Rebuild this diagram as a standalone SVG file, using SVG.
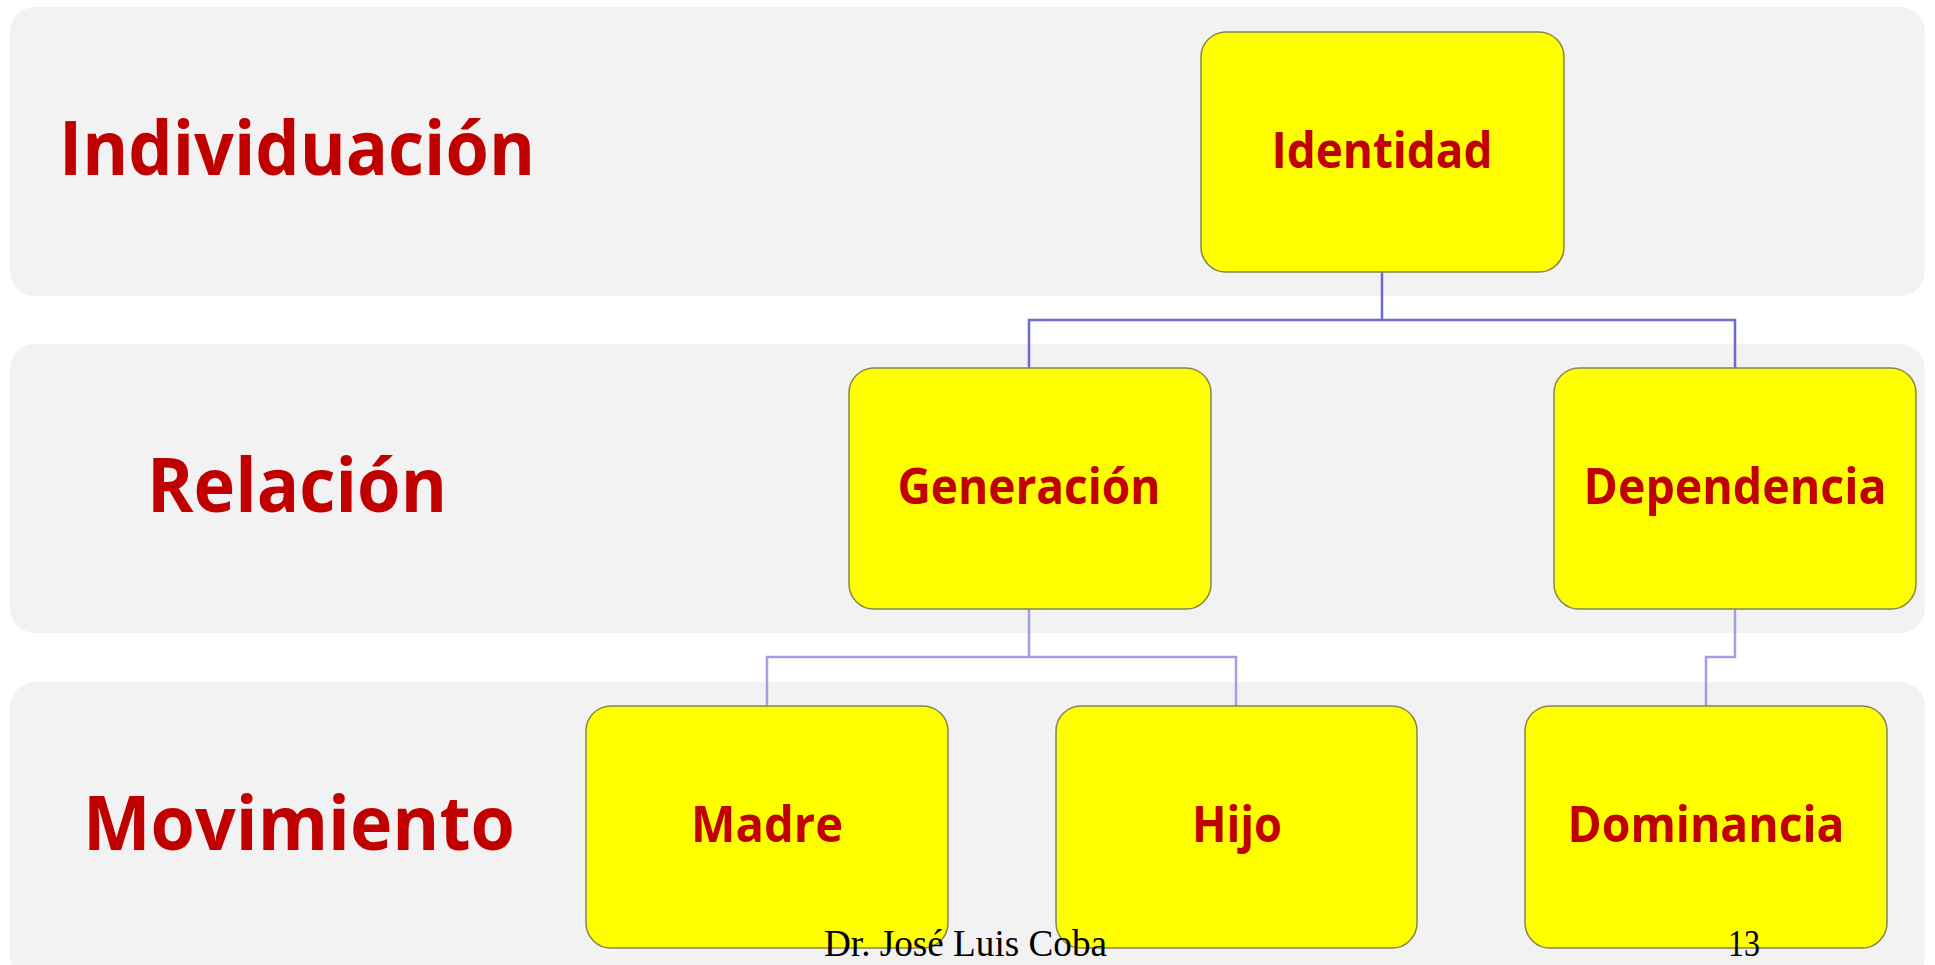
<svg xmlns="http://www.w3.org/2000/svg" width="1935" height="965" viewBox="0 0 1935 965">
<style>
.band{fill:#f2f2f2}
.node rect{fill:#ffff00;stroke:#85854f;stroke-width:1.5}
.lbl{font-family:"Open Sans","Liberation Sans",sans-serif;font-weight:bold;fill:#c00000;text-anchor:middle}
.big{font-size:75px}
.nl{font-size:50px}
.c1{fill:none;stroke:#6a6ad2;stroke-width:2.5}
.c2{fill:none;stroke:#a0a0e4;stroke-width:2.5}
.foot{font-family:"Liberation Serif","Times New Roman",serif;font-size:38px;fill:#000}
</style>
<rect width="1935" height="965" fill="#ffffff"/>
<g id="bands">
<rect class="band" x="10" y="7" width="1915" height="289" rx="25"/>
<rect class="band" x="10" y="344" width="1915" height="289" rx="25"/>
<rect class="band" x="10" y="682" width="1915" height="300" rx="25"/>
</g>
<g id="row-labels">
<text class="lbl big" x="297" y="175" textLength="476" lengthAdjust="spacingAndGlyphs">Individuación</text>
<text class="lbl big" x="297" y="512" textLength="300" lengthAdjust="spacingAndGlyphs">Relación</text>
<text class="lbl big" x="299" y="850" textLength="432" lengthAdjust="spacingAndGlyphs">Movimiento</text>
</g>
<g id="connectors">
<path class="c1" d="M1382,272 V320 M1029,368 V320 H1735 V368"/>
<path class="c2" d="M1029,609 V657 M767,706 V657 H1236 V706"/>
<path class="c2" d="M1735,609 V657 H1706 V706"/>
</g>
<g id="identidad" class="node">
<rect x="1201" y="32" width="363" height="240" rx="25"/>
<text class="lbl nl" x="1382" y="168" textLength="221" lengthAdjust="spacingAndGlyphs">Identidad</text>
</g>
<g id="generacion" class="node">
<rect x="849" y="368" width="362" height="241" rx="25"/>
<text class="lbl nl" x="1029" y="504" textLength="263" lengthAdjust="spacingAndGlyphs">Generación</text>
</g>
<g id="dependencia" class="node">
<rect x="1554" y="368" width="362" height="241" rx="25"/>
<text class="lbl nl" x="1735" y="504" textLength="303" lengthAdjust="spacingAndGlyphs">Dependencia</text>
</g>
<g id="madre" class="node">
<rect x="586" y="706" width="362" height="242" rx="25"/>
<text class="lbl nl" x="767" y="842" textLength="152" lengthAdjust="spacingAndGlyphs">Madre</text>
</g>
<g id="hijo" class="node">
<rect x="1056" y="706" width="361" height="242" rx="25"/>
<text class="lbl nl" x="1237" y="842" textLength="90" lengthAdjust="spacingAndGlyphs">Hijo</text>
</g>
<g id="dominancia" class="node">
<rect x="1525" y="706" width="362" height="242" rx="25"/>
<text class="lbl nl" x="1706" y="842" textLength="277" lengthAdjust="spacingAndGlyphs">Dominancia</text>
</g>
<g id="footer">
<text class="foot" x="824" y="956" textLength="283" lengthAdjust="spacingAndGlyphs">Dr. José Luis Coba</text>
<text class="foot" x="1728" y="956" textLength="32" lengthAdjust="spacingAndGlyphs">13</text>
</g>
</svg>
